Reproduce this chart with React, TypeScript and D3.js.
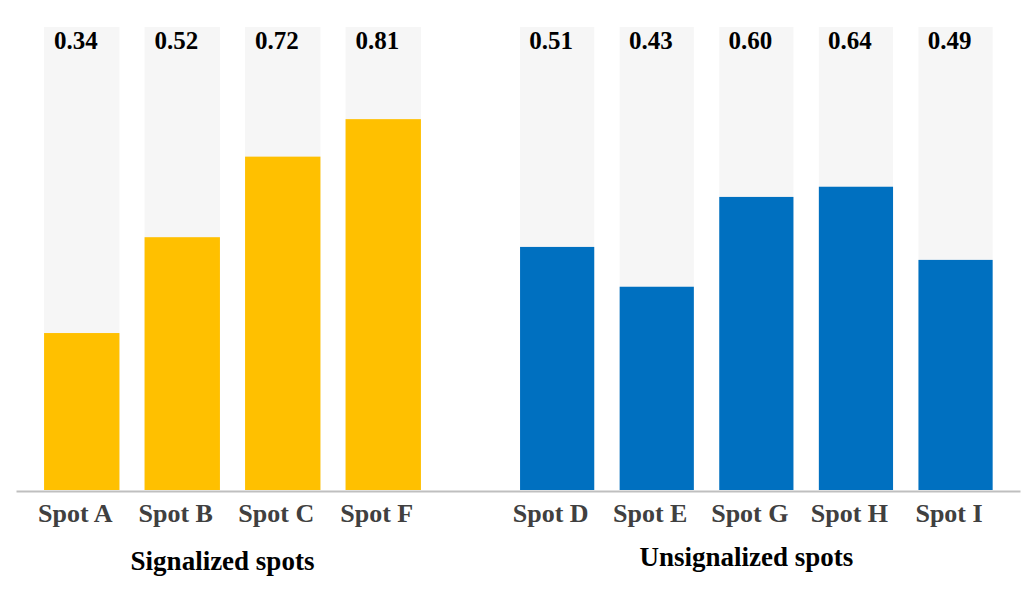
import React from "react";
import * as d3 from "d3";

const signalizedSpots = ["Spot A", "Spot B", "Spot C", "Spot F"];
const signalizedBars = [0.339, 0.546, 0.72, 0.801];
const signalizedLabels = ["0.34", "0.52", "0.72", "0.81"];

const unsignalizedSpots = ["Spot D", "Spot E", "Spot G", "Spot H", "Spot I"];
const unsignalizedBars = [0.525, 0.439, 0.633, 0.655, 0.497];
const unsignalizedLabels = ["0.51", "0.43", "0.60", "0.64", "0.49"];

const groupTitles = ["Signalized spots", "Unsignalized spots"];

const W = 1035;
const H = 594;
const FONT = "'Palatino Linotype', 'Book Antiqua', Palatino, 'Liberation Serif', serif";

export default function App() {
  const y = d3.scaleLinear().domain([0, 1]).range([490, 27]);

  const xS = d3
    .scaleBand<string>()
    .domain(signalizedSpots)
    .range([31.5, 433.5])
    .paddingInner(0.25)
    .paddingOuter(0.125);
  const xU = d3
    .scaleBand<string>()
    .domain(unsignalizedSpots)
    .range([507.6, 1005.1])
    .paddingInner(0.255)
    .paddingOuter(0.125);

  const groups = [
    { spots: signalizedSpots, bars: signalizedBars, labels: signalizedLabels, x: xS, color: "#FFC000", title: groupTitles[0], titleY: 570 },
    { spots: unsignalizedSpots, bars: unsignalizedBars, labels: unsignalizedLabels, x: xU, color: "#0070C0", title: groupTitles[1], titleY: 566 },
  ];

  return (
    <svg
      width={W}
      height={H}
      viewBox={`0 0 ${W} ${H}`}
      style={{ position: "absolute", left: 0, top: 0, background: "#fff" }}
    >
      {groups.map((g, gi) => {
        const [r0, r1] = g.x.range();
        const first = g.x(g.spots[0])!;
        const last = g.x(g.spots[g.spots.length - 1])! + g.x.bandwidth();
        const center = (first + last) / 2;
        return (
          <g key={gi}>
            {g.spots.map((s, i) => {
              const x0 = g.x(s)!;
              const bw = g.x.bandwidth();
              const cx = x0 + bw / 2;
              return (
                <g key={s}>
                  <rect x={x0} y={y(1)} width={bw} height={y(0) - y(1)} fill="#F6F6F6" />
                  <rect x={x0} y={y(g.bars[i])} width={bw} height={y(0) - y(g.bars[i])} fill={g.color} />
                  <text
                    x={cx - 6}
                    y={49}
                    textAnchor="middle"
                    fontFamily={FONT}
                    fontWeight="bold"
                    fontSize={25}
                    fill="#000"
                  >
                    {g.labels[i]}
                  </text>
                  <text
                    x={cx - 6.5}
                    y={522}
                    textAnchor="middle"
                    fontFamily={FONT}
                    fontWeight="bold"
                    fontSize={26}
                    fill="#404040"
                  >
                    {s}
                  </text>
                </g>
              );
            })}
            <text
              x={center - 10}
              y={g.titleY}
              textAnchor="middle"
              fontFamily={FONT}
              fontWeight="bold"
              fontSize={27}
              fill="#000"
            >
              {g.title}
            </text>
          </g>
        );
      })}
      <line x1={16.5} x2={1020.5} y1={491.5} y2={491.5} stroke="#BFBFBF" strokeWidth={2} />
    </svg>
  );
}
